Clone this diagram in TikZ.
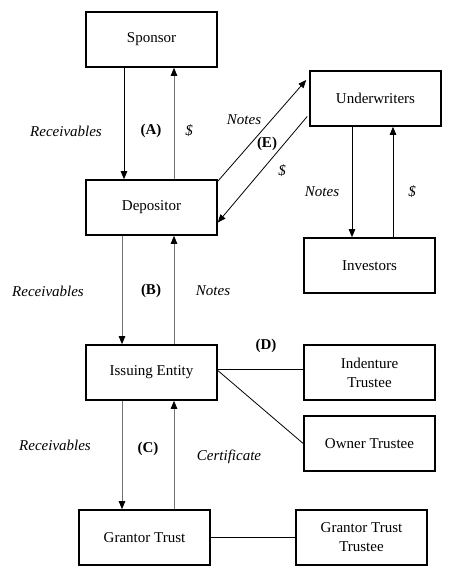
\documentclass[tikz,border=0pt]{standalone}
\usepackage{fontspec}
\setmainfont{Liberation Serif}
\usetikzlibrary{arrows.meta}
\begin{document}
\begin{tikzpicture}[x=1pt,y=-1pt,
 box/.style={draw,line width=1.6pt,minimum width=131pt,minimum height=55pt,inner sep=0pt,align=center,font=\fontsize{15}{19}\selectfont},
 arr/.style={line width=0.8pt,-{Triangle[length=8pt,width=6.5pt,black]}},
 garr/.style={arr,draw=black!55},
 lab/.style={font=\fontsize{15}{17}\selectfont\itshape},
 blab/.style={font=\fontsize{15}{17}\selectfont\bfseries},
 conn/.style={line width=0.8pt}]
\useasboundingbox (0,0) rectangle (448,579);
\node[box] (sponsor) at (151.5,39.5) {Sponsor};
\node[box] (depositor) at (151.5,207.5) {Depositor};
\node[box] (under) at (375.5,98.5) {Underwriters};
\node[box] (investors) at (369.5,265.5) {Investors};
\node[box] (issuing) at (151.5,372.5) {Issuing Entity};
\node[box] (indenture) at (369.5,372.5) {Indenture\\Trustee};
\node[box] (owner) at (369.5,443.5) {Owner Trustee};
\node[box] (grantor) at (144.5,537.5) {Grantor Trust};
\node[box] (gtt) at (361.5,537.5) {Grantor Trust\\Trustee};
% A
\draw[arr] ([xshift=-27.5pt]sponsor.south) -- ([xshift=-27.5pt]depositor.north);
\draw[garr] ([xshift=22.5pt]depositor.north) -- ([xshift=22.5pt]sponsor.south);
% B
\draw[garr] ([xshift=-29.5pt]depositor.south) -- ([xshift=-29.5pt]issuing.north);
\draw[garr] ([xshift=22.5pt]issuing.north) -- ([xshift=22.5pt]depositor.south);
% C
\draw[garr] ([xshift=-29.5pt]issuing.south) -- ([xshift=-22.5pt]grantor.north);
\draw[garr] ([xshift=29.5pt]grantor.north) -- ([xshift=22.5pt]issuing.south);
% E
\draw[arr] ([yshift=-2pt]depositor.north east) -- ([xshift=-3pt,yshift=18.5pt]under.west);
\draw[arr] ([xshift=-2pt,yshift=-18pt]under.west) -- ([yshift=-15pt]depositor.east);
% Underwriters / investors
\draw[arr] ([xshift=-23.5pt]under.south) -- ([xshift=-17.5pt]investors.north);
\draw[arr] ([xshift=23.5pt]investors.north) -- ([xshift=17.5pt]under.south);
% D
\draw[conn] ([yshift=3pt]issuing.east) -- ([yshift=3pt]indenture.west);
\draw[conn] ([yshift=2pt]issuing.east) -- (owner.west);
\draw[conn] (grantor.east) -- (gtt.west);
% labels
\node[lab] (l1) at (66,131) {Receivables};
\node[blab] (l2) at (151,131) {(A)};
\node[lab] (l3) at (189,131) {\$};
\node[lab] (l4) at (244,120) {Notes};
\node[blab] (l5) at (267,144) {(E)};
\node[lab] (l6) at (282,171) {\$};
\node[lab] (l7) at (322,192) {Notes};
\node[lab] (l8) at (412,192) {\$};
\node[lab] (l9) at (48,291) {Receivables};
\node[blab] (l10) at (151,291) {(B)};
\node[lab] (l11) at (213,291) {Notes};
\node[blab] (l12) at (266,346) {(D)};
\node[lab] (l13) at (55,445) {Receivables};
\node[blab] (l14) at (148,449) {(C)};
\node[lab] (l15) at (229,457) {Certificate};
\end{tikzpicture}
\end{document}
